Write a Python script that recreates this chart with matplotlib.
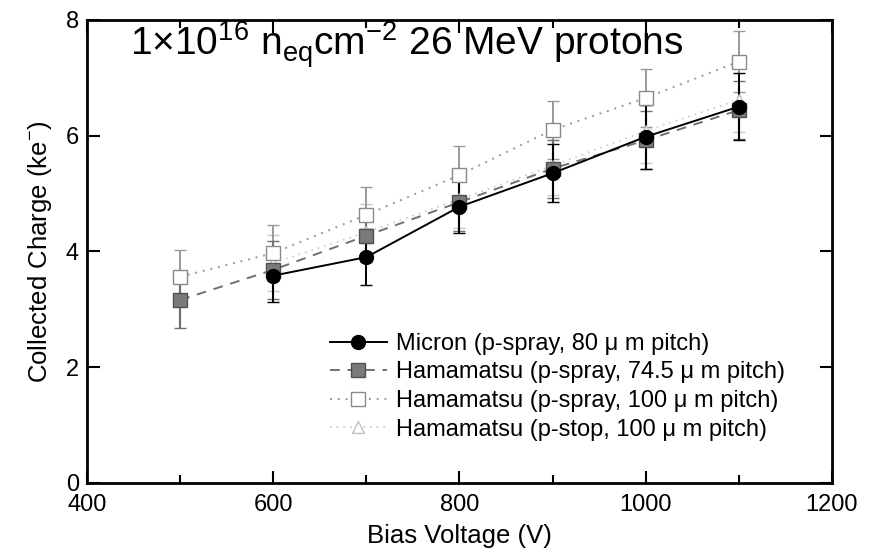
import numpy as np
import matplotlib.pyplot as plt
from matplotlib.ticker import MultipleLocator

plt.rcParams['font.family'] = ['Liberation Sans', 'DejaVu Sans']
plt.rcParams['mathtext.fontset'] = 'custom'
plt.rcParams['mathtext.rm'] = 'Liberation Sans'

bias = [500, 600, 700, 800, 900, 1000, 1100]

micron_v = [600, 700, 800, 900, 1000, 1100]
micron_q = [3.58, 3.90, 4.77, 5.35, 5.98, 6.50]
micron_err = [0.45, 0.48, 0.45, 0.50, 0.55, 0.58]

ham745_q = [3.16, 3.68, 4.27, 4.85, 5.43, 5.92, 6.44]
ham745_err = [0.48, 0.50, 0.45, 0.50, 0.50, 0.50, 0.50]

ham100_q = [3.56, 3.97, 4.63, 5.32, 6.10, 6.65, 7.28]
ham100_err = [0.47, 0.48, 0.48, 0.50, 0.50, 0.50, 0.53]

pstop_v = [600, 700, 800, 900, 1000, 1100]
pstop_q = [3.80, 4.33, 4.90, 5.48, 6.08, 6.62]
pstop_err = [0.48, 0.48, 0.50, 0.50, 0.55, 0.55]

fig = plt.figure(figsize=(8.71, 5.53), dpi=100)
ax = fig.add_axes([0.1, 0.127, 0.855, 0.837])

ax.errorbar(pstop_v, pstop_q, yerr=pstop_err, color='#c8c8c8', ls=(0, (1, 3)), lw=1.2,
            marker='^', ms=9, mfc='white', mec='#c0c0c0', capsize=4, elinewidth=1.2,
            label='Hamamatsu (p-stop, 100 \u03bc m pitch)')
ax.errorbar(bias, ham100_q, yerr=ham100_err, color='#999999', ls=(0, (1, 3)), lw=1.4,
            marker='s', ms=10, mfc='white', mec='#8a8a8a', capsize=4, elinewidth=1.4,
            label='Hamamatsu (p-spray, 100 \u03bc m pitch)')
ax.errorbar(bias, ham745_q, yerr=ham745_err, color='#707070', ls=(0, (5, 4)), lw=1.4,
            marker='s', ms=10, mfc='#7a7a7a', mec='#505050', capsize=4, elinewidth=1.6,
            label='Hamamatsu (p-spray, 74.5 \u03bc m pitch)')
ax.errorbar(micron_v, micron_q, yerr=micron_err, color='black', ls='-', lw=1.4,
            marker='o', ms=10, mfc='black', mec='black', capsize=4, elinewidth=1.4,
            label='Micron (p-spray, 80 \u03bc m pitch)')

ax.set_xlim(400, 1200)
ax.set_ylim(0, 8)
ax.xaxis.set_major_locator(MultipleLocator(200))
ax.xaxis.set_minor_locator(MultipleLocator(100))
ax.yaxis.set_major_locator(MultipleLocator(2))
ax.tick_params(which='both', direction='in', top=True, right=True, labelsize=17)
ax.tick_params(which='major', length=9, width=1.5)
ax.tick_params(which='minor', length=6, width=1.5)
ax.tick_params(axis='x', pad=8)
ax.tick_params(axis='y', pad=6)
for s in ax.spines.values():
    s.set_linewidth(2)

ax.set_xlabel('Bias Voltage (V)', fontsize=18.5, labelpad=6)
ax.set_ylabel('Collected Charge (ke$^{-}$)', fontsize=18.5, labelpad=8)

ax.text(446, 7.39, r'1$\times$10$^{\mathregular{16}}$ n$_{\mathregular{eq}}$cm$^{\mathregular{-2}}$ 26 MeV protons',
        fontsize=28, va='baseline', ha='left')

h, l = ax.get_legend_handles_labels()
h = [c.lines[0] for c in h]
ax.legend(h[::-1], l[::-1], loc='lower right', bbox_to_anchor=(0.966, 0.045), frameon=False,
          fontsize=17, handlelength=2.4, handletextpad=0.4, labelspacing=0.28)

fig.savefig('out.png', dpi=100)
